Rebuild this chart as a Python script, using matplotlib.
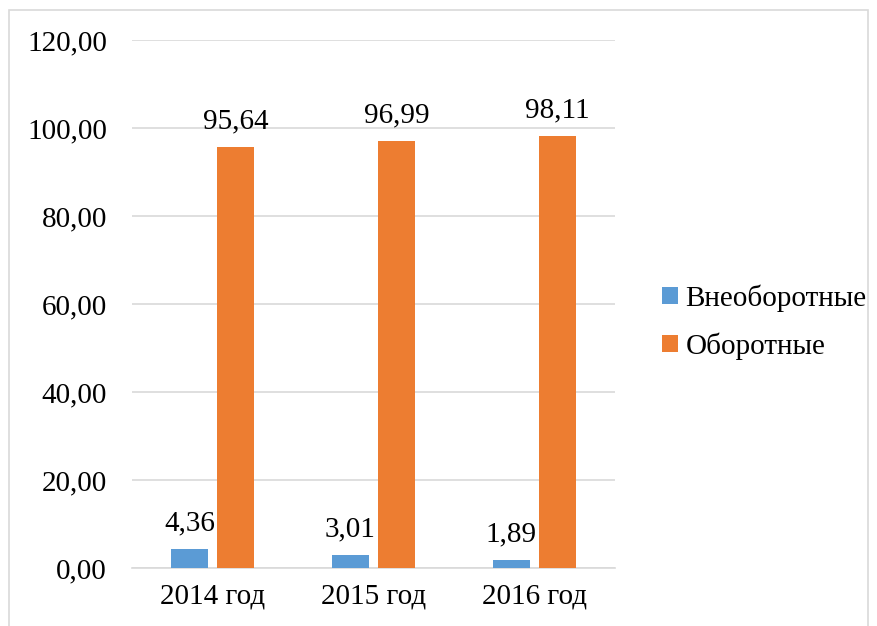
import matplotlib
matplotlib.use("Agg")
import matplotlib.pyplot as plt
from matplotlib.patches import Rectangle
import numpy as np

categories = ["2014 год", "2015 год", "2016 год"]
series_names = ["Внеоборотные", "Оборотные"]
vneoborotnye = [4.36, 3.01, 1.89]
oborotnye = [95.64, 96.99, 98.11]
yticks = [0, 20, 40, 60, 80, 100, 120]

plt.rcParams['font.family'] = ['Liberation Serif', 'DejaVu Serif']

fig = plt.figure(figsize=(8.78, 6.26), dpi=100)
W, H = 878, 626
ax = fig.add_axes([132 / W, 1 - 568 / H, (615 - 132) / W, (568 - 40) / H])

FS = 21
x = np.arange(len(categories))
bw = 0.224
off = 0.143
colors = ["#5B9BD5", "#ED7D31"]
b1 = ax.bar(x - off, vneoborotnye, bw, color=colors[0], label=series_names[0], zorder=3)
b2 = ax.bar(x + off, oborotnye, bw, color=colors[1], label=series_names[1], zorder=3)

def fmt(v):
    return f"{v:.2f}".replace(".", ",")

for bars, vals in ((b1, vneoborotnye), (b2, oborotnye)):
    for r, v in zip(bars, vals):
        ax.annotate(fmt(v), (r.get_x() + r.get_width() / 2, v), xytext=(0, 9),
                    textcoords="offset points", ha="center", va="bottom", fontsize=FS)

ax.set_xlim(-0.5, len(categories) - 0.5)
ax.set_ylim(0, 120)
ax.set_yticks(yticks)
ax.set_yticklabels([fmt(v) for v in yticks], fontsize=FS)
ax.set_xticks(x)
ax.set_xticklabels(categories, fontsize=FS)
ax.tick_params(axis='both', length=0)
ax.tick_params(axis='y', pad=18)
ax.tick_params(axis='x', pad=11)
ax.grid(axis='y', color="#d9d9d9", linewidth=1.2, zorder=0)
for s in ["top", "right", "left"]:
    ax.spines[s].set_visible(False)
ax.spines["bottom"].set_color("#d9d9d9")
ax.spines["bottom"].set_linewidth(1.2)

leg = fig.legend(loc="center left", bbox_to_anchor=(662 / W, 1 - 322 / H), frameon=False,
                 fontsize=FS, handlelength=0.55, handleheight=0.55, handletextpad=0.25,
                 labelspacing=0.7, borderpad=0, borderaxespad=0)

fig.patches.append(Rectangle((9 / W, -0.01), (868 - 9) / W, 1.01 - 10 / H, transform=fig.transFigure,
                             fill=False, edgecolor="#d9d9d9", linewidth=1.2))

fig.savefig("out.png", dpi=100, facecolor="white")
